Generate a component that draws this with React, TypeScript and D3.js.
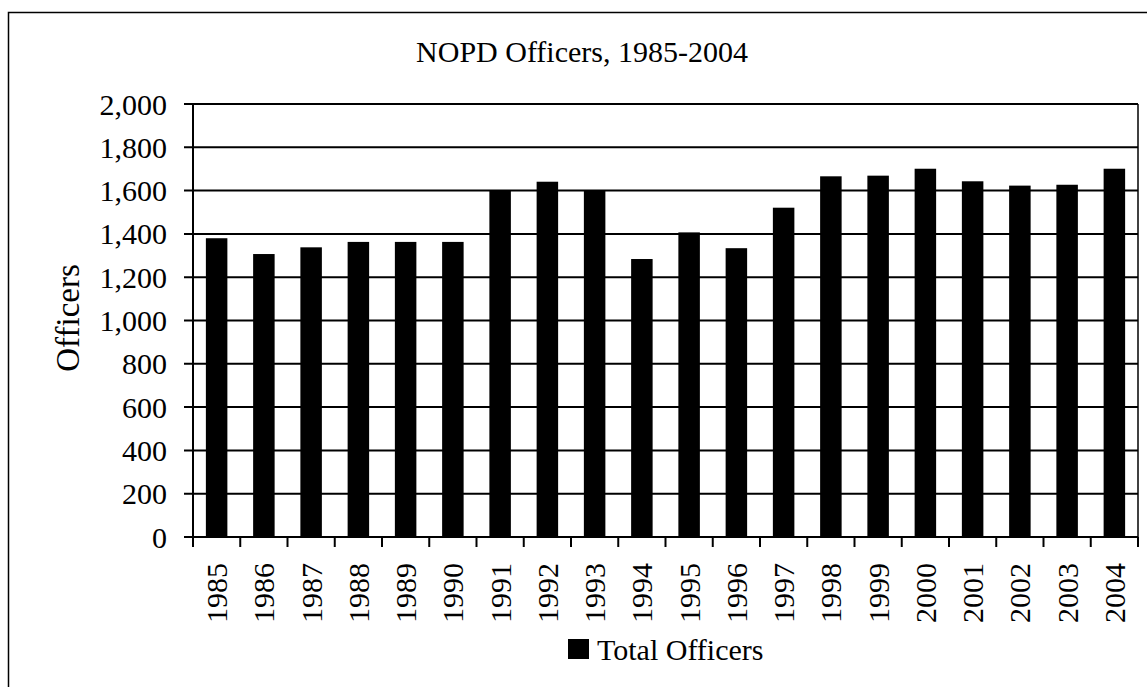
import React from "react";
import * as d3 from "d3";

// chart data
const years = ["1985", "1986", "1987", "1988", "1989", "1990", "1991", "1992", "1993", "1994",
  "1995", "1996", "1997", "1998", "1999", "2000", "2001", "2002", "2003", "2004"];
const officers = [1380, 1307, 1338, 1363, 1363, 1363, 1600, 1641, 1600, 1284,
  1407, 1334, 1521, 1666, 1669, 1701, 1643, 1623, 1627, 1701];
const yTicks = [0, 200, 400, 600, 800, 1000, 1200, 1400, 1600, 1800, 2000];

const title = "NOPD Officers, 1985-2004";
const yLabel = "Officers";
const seriesName = "Total Officers";

const width = 1147;
const height = 687;
const plot = { left: 193, right: 1138, top: 104, bottom: 537 };
const font = "Liberation Serif, DejaVu Serif, Times New Roman, Times, serif";

export default function App() {
  const x = d3.scaleBand().domain(years).range([plot.left, plot.right]).paddingInner(0.545).paddingOuter(0.2725);
  const xBand = d3.scaleBand().domain(years).range([plot.left, plot.right]);
  const y = d3.scaleLinear().domain([0, 2000]).range([plot.bottom, plot.top]);
  const fmt = d3.format(",");

  return (
    <svg width={width} height={height} style={{ position: "absolute", left: 0, top: 0, background: "#fff", fontFamily: font }}>
      {/* outer frame, cut off at right and bottom */}
      <rect x={8.5} y={12.5} width={width + 20} height={height + 20} fill="none" stroke="#000" strokeWidth={1.5} />

      <text x={582} y={62} textAnchor="middle" fontSize={30}>{title}</text>

      {/* gridlines */}
      {yTicks.map(t => (
        <line key={t} x1={plot.left - 9} x2={plot.right} y1={y(t)} y2={y(t)} stroke="#000" strokeWidth={2} />
      ))}
      {yTicks.map(t => (
        <text key={"l" + t} x={167} y={y(t)} dy="0.35em" textAnchor="end" fontSize={30}>{fmt(t)}</text>
      ))}
      <line x1={plot.right} x2={plot.right} y1={plot.top} y2={plot.bottom} stroke="#000" strokeWidth={1.5} />

      {/* bars */}
      {years.map((yr, i) => (
        <rect key={yr} x={x(yr)} y={y(officers[i])} width={x.bandwidth()} height={plot.bottom - y(officers[i])} fill="#000" />
      ))}

      {/* axes */}
      <line x1={plot.left} x2={plot.left} y1={plot.top} y2={plot.bottom} stroke="#000" strokeWidth={2} />
      <line x1={plot.left} x2={plot.right} y1={plot.bottom} y2={plot.bottom} stroke="#000" strokeWidth={2} />
      {years.map(yr => (
        <line key={"t" + yr} x1={xBand(yr)} x2={xBand(yr)} y1={plot.bottom} y2={plot.bottom + 10} stroke="#000" strokeWidth={2} />
      ))}
      <line x1={plot.right} x2={plot.right} y1={plot.bottom} y2={plot.bottom + 10} stroke="#000" strokeWidth={2} />
      {years.map(yr => {
        const cx = (x(yr) as number) + x.bandwidth() / 2;
        return (
          <text key={"x" + yr} transform={`translate(${cx},563) rotate(-90)`} dy="0.35em" textAnchor="end" fontSize={30}>{yr}</text>
        );
      })}

      <text transform={`translate(67,318) rotate(-90)`} dy="0.35em" textAnchor="middle" fontSize={33}>{yLabel}</text>

      {/* legend */}
      <rect x={568} y={639} width={21} height={20} fill="#000" />
      <text x={597} y={660} fontSize={30}>{seriesName}</text>
    </svg>
  );
}
